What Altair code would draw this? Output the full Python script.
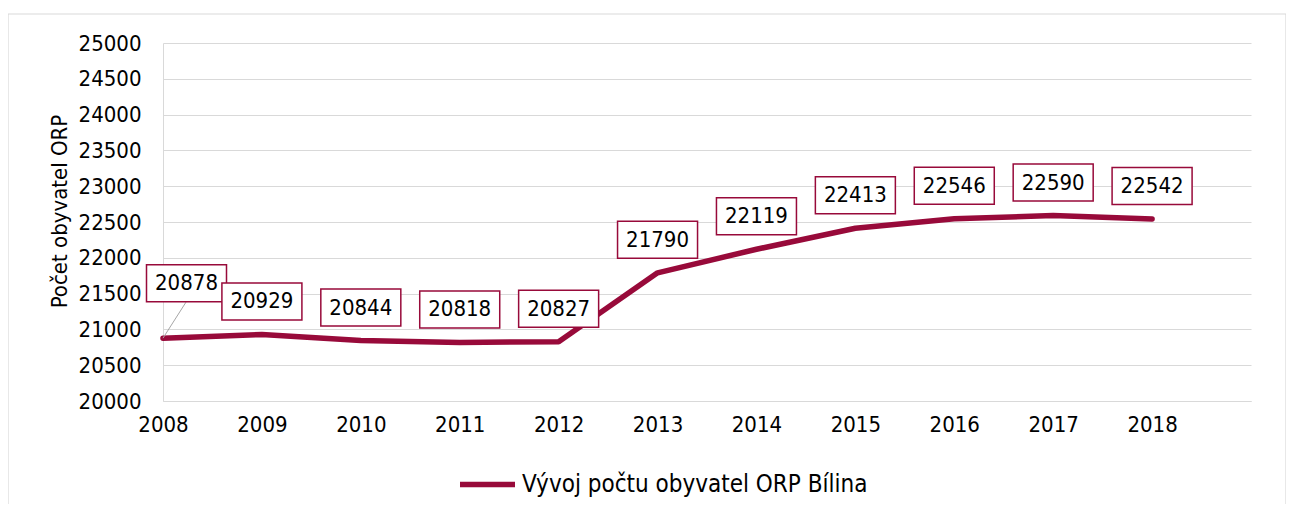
import altair as alt
import pandas as pd

years = [2008, 2009, 2010, 2011, 2012, 2013, 2014, 2015, 2016, 2017, 2018]
values = [20878, 20929, 20844, 20818, 20827, 21790, 22119, 22413, 22546, 22590, 22542]
series_name = "Vývoj počtu obyvatel ORP Bílina"
y_ticks = [20000, 20500, 21000, 21500, 22000, 22500, 23000, 23500, 24000, 24500, 25000]
y_title = "Počet obyvatel ORP"

MAROON = "#980a3a"
GRID = "#d9d9d9"
FONT = "DejaVu Sans Condensed, Liberation Sans, sans-serif"
FS = 22

df = pd.DataFrame({"year": years, "value": values, "series": [series_name] * len(years)})

x_enc = alt.X("year:Q",
              scale=alt.Scale(domain=[2008, 2019], nice=False, zero=False),
              axis=alt.Axis(values=years, format="d", labelFontSize=FS, labelFont=FONT,
                            labelColor="#000000", labelPadding=13, ticks=False, grid=False,
                            domainColor=GRID, domainWidth=1, labelFlush=False,
                            labelOverlap=False, title=None))
y_enc = alt.Y("value:Q",
              scale=alt.Scale(domain=[20000, 25000], nice=False, zero=False),
              axis=alt.Axis(values=y_ticks, tickCount=11, format="d", labelFontSize=FS,
                            labelFont=FONT,
                            labelColor="#000000", labelPadding=22, ticks=False, grid=True,
                            labelOverlap=False,
                            gridColor=GRID, gridWidth=1, domainColor=GRID, domainWidth=1,
                            title=y_title, titleFont=FONT, titleFontSize=FS,
                            titleFontWeight="normal", titleColor="#000000",
                            titleAngle=270, titleX=-104, titleY=168,
                            titleAlign="center", titleBaseline="middle"))

base = alt.Chart(df)

frame = alt.Chart(pd.DataFrame({"a": [0]})).mark_rect(
    fillOpacity=0, stroke=GRID, strokeWidth=1.2
).encode(x=alt.value(-155), x2=alt.value(1123), y=alt.value(-29), y2=alt.value(480))

line = base.mark_line(strokeWidth=5.5, strokeCap="round", strokeJoin="round",
                      interpolate="linear").encode(
    x=x_enc, y=y_enc,
    color=alt.Color("series:N", scale=alt.Scale(range=[MAROON]),
                    legend=alt.Legend(orient="none", legendX=294, legendY=411, title=None,
                                      symbolType="stroke", symbolSize=3025,
                                      symbolStrokeWidth=5.5, labelFontSize=24,
                                      labelFont=FONT, labelColor="#000000",
                                      labelLimit=0, padding=0, labelOffset=4))
)

box_shape = "M-1,-0.4625L1,-0.4625L1,0.4625L-1,0.4625Z"

first = base.transform_filter("datum.year == 2008")
rest = base.transform_filter("datum.year > 2008")

leader = first.mark_rule(
    color="#a6a6a6", strokeWidth=1, x2Offset=23, y2Offset=-36
).encode(x=x_enc, x2="year:Q", y=y_enc, y2="value:Q")

first_box = first.mark_point(
    shape=box_shape, size=6400, filled=True, fill="white", stroke=MAROON,
    strokeWidth=1.5, opacity=1, fillOpacity=1, xOffset=23.5, yOffset=-55
).encode(x=x_enc, y=y_enc)
first_text = first.mark_text(
    font=FONT, fontSize=FS, color="#000000", align="center", baseline="middle",
    dx=23.5, dy=-55
).encode(x=x_enc, y=y_enc, text=alt.Text("value:Q", format="d"))

boxes = rest.mark_point(
    shape=box_shape, size=6400, filled=True, fill="white", stroke=MAROON,
    strokeWidth=1.5, opacity=1, fillOpacity=1, yOffset=-33
).encode(x=x_enc, y=y_enc)
texts = rest.mark_text(
    font=FONT, fontSize=FS, color="#000000", align="center", baseline="middle", dy=-33
).encode(x=x_enc, y=y_enc, text=alt.Text("value:Q", format="d"))

chart = alt.layer(line, leader, first_box, first_text, boxes, texts, frame).properties(
    width=1088, height=358,
    autosize=alt.AutoSizeParams(type="none"),
    padding={"left": 155, "top": 35, "right": 35, "bottom": 103},
    background="white",
).configure_view(stroke=None)

chart.save("out.html", embed_options={"renderer": "svg", "actions": False})
